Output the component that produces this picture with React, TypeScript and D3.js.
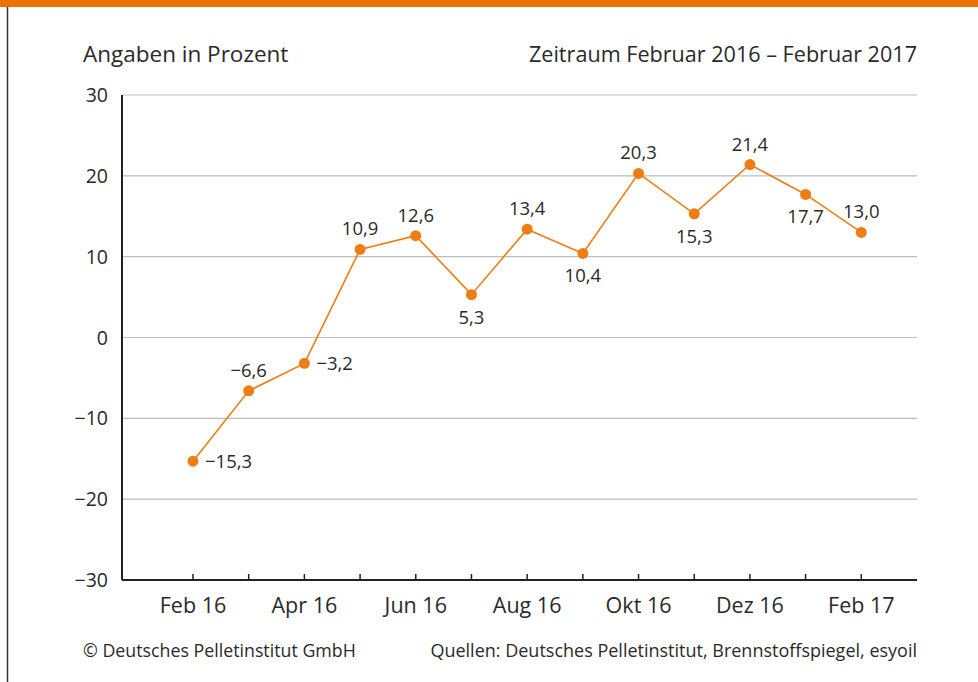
import React from "react";
import * as d3 from "d3";

const months = ["Feb 16","Mär 16","Apr 16","Mai 16","Jun 16","Jul 16","Aug 16","Sep 16","Okt 16","Nov 16","Dez 16","Jan 17","Feb 17"];
const values = [-15.3, -6.6, -3.2, 10.9, 12.6, 5.3, 13.4, 10.4, 20.3, 15.3, 21.4, 17.7, 13.0];
const labelSide = ["r","t","r","t","t","b","t","b","t","b","t","b","t"];
const shownTickLabels = ["Feb 16","Apr 16","Jun 16","Aug 16","Okt 16","Dez 16","Feb 17"];
const yTicks = [-30, -20, -10, 0, 10, 20, 30];
const yUnit = "Angaben in Prozent";
const period = "Zeitraum Februar 2016 – Februar 2017";
const copyright = "© Deutsches Pelletinstitut GmbH";
const sources = "Quellen: Deutsches Pelletinstitut, Brennstoffspiegel, esyoil";

const W = 978, H = 682;
const left = 122, right = 917, top = 95, bottom = 580;
const ORANGE = "#ee7d14";
const TEXT = "#2a2a2a";
const FONT = "'Open Sans', sans-serif";

const fmt = (v: number) => v.toFixed(1).replace(".", ",").replace("-", "−");

export default function App() {
  const x = d3.scaleLinear().domain([-1.275, 13]).range([left, right]);
  const y = d3.scaleLinear().domain([-30, 30]).range([bottom, top]);
  const line = d3.line<number>().x((_, i) => x(i)).y((d) => y(d));

  return (
    <svg width={W} height={H} style={{ position: "absolute", left: 0, top: 0, background: "#fff" }} fontFamily={FONT}>
      <rect x={0} y={0} width={W} height={7} fill="#ec7205" />
      <line x1={7.5} x2={7.5} y1={7} y2={H} stroke="#333" strokeWidth={1.5} />

      <text x={83} y={62} fontSize={22.5} fill={TEXT}>{yUnit}</text>
      <text x={right} y={62} fontSize={21.6} fill={TEXT} textAnchor="end">{period}</text>

      {yTicks.map((t) => (
        <g key={t}>
          {t !== -30 && (
            <line x1={left} x2={right} y1={y(t)} y2={y(t)} stroke="#bdbdbd" strokeWidth={1.2} />
          )}
          <text x={108} y={y(t) + 7} fontSize={19.5} fill={TEXT} textAnchor="end">{fmt(t).replace(",0", "")}</text>
        </g>
      ))}

      <line x1={left} x2={left} y1={top} y2={bottom} stroke="#222" strokeWidth={2} />
      <line x1={left} x2={right} y1={bottom} y2={bottom} stroke="#222" strokeWidth={2} />

      {months.map((m, i) => (
        <g key={m}>
          <line x1={x(i)} x2={x(i)} y1={bottom} y2={bottom - 6} stroke="#222" strokeWidth={1.5} />
          {shownTickLabels.includes(m) && (
            <text x={x(i)} y={bottom + 33} fontSize={21.5} fill={TEXT} textAnchor="middle">{m}</text>
          )}
        </g>
      ))}

      <path d={line(values) || ""} fill="none" stroke={ORANGE} strokeWidth={1.6} />
      {values.map((v, i) => (
        <circle key={i} cx={x(i)} cy={y(v)} r={5.5} fill={ORANGE} />
      ))}
      {values.map((v, i) => {
        const s = labelSide[i];
        const cx = x(i), cy = y(v);
        const tx = s === "r" ? cx + 12 : cx;
        const ty = s === "t" ? cy - 14 : s === "b" ? cy + 29 : cy + 7;
        return (
          <text key={"l" + i} x={tx} y={ty} fontSize={18.5} fill={TEXT} textAnchor={s === "r" ? "start" : "middle"}>
            {fmt(v)}
          </text>
        );
      })}

      <text x={83} y={657} fontSize={17.8} fill={TEXT}>{copyright}</text>
      <text x={right} y={657} fontSize={18} fill={TEXT} textAnchor="end">{sources}</text>
    </svg>
  );
}
